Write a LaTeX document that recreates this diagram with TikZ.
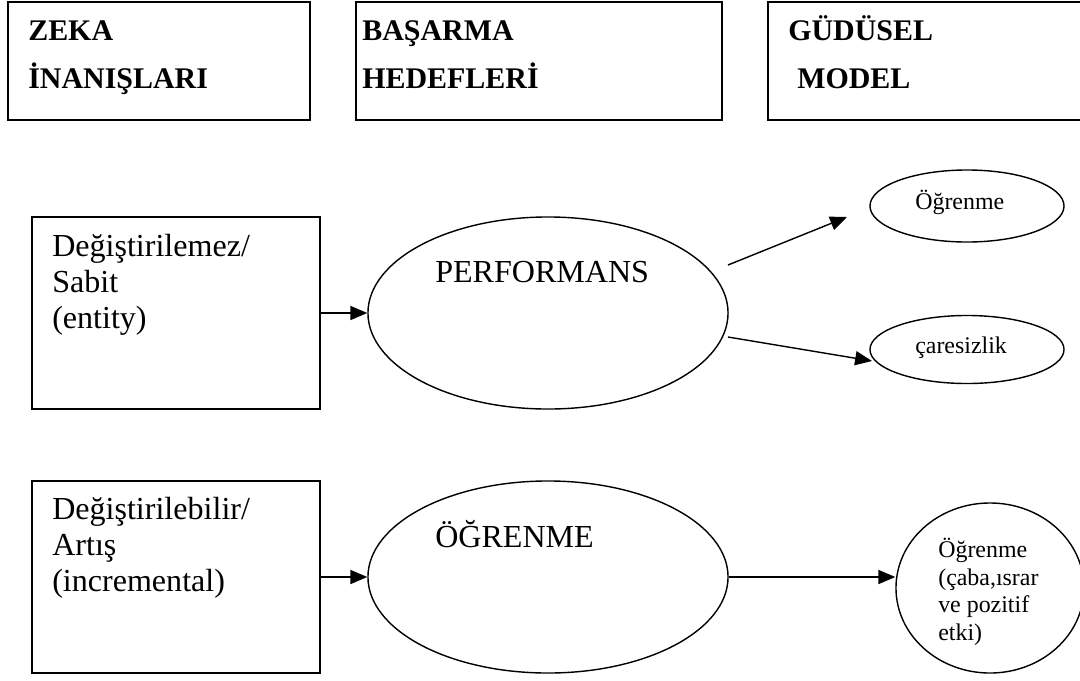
\documentclass[tikz,border=0pt]{standalone}
\usepackage{fontspec}
\setmainfont{Liberation Serif}
\usepackage{tikz}
\usetikzlibrary{arrows.meta}
\usetikzlibrary{shapes,shapes.geometric}
\tikzset{>={Triangle[length=12pt,width=10pt]}}
\tikzset{
  headbox/.style={draw, line width=1.3pt, rectangle, inner sep=0pt, minimum height=2.95cm},
  kindbox/.style={draw, line width=1.2pt, rectangle, inner sep=0pt, minimum width=7.2cm, minimum height=4.8cm},
  goal/.style={draw, line width=1pt, ellipse, inner sep=0pt, minimum width=9cm, minimum height=4.8cm},
  result/.style={draw, line width=1pt, ellipse, inner sep=0pt},
  headtxt/.style={anchor=base west, inner sep=0pt, align=left, font=\bfseries\fontsize{21.3}{33.8}\selectfont},
  bigtxt/.style={anchor=base west, inner sep=0pt, align=left, font=\fontsize{22.8}{25.3}\selectfont},
  smalltxt/.style={anchor=base west, inner sep=0pt, align=left, font=\fontsize{17}{19.5}\selectfont},
  arr/.style={->, line width=1pt}
}

\begin{document}
\begin{tikzpicture}[x=0.025cm, y=-0.025cm]
        \useasboundingbox (0,0) rectangle (1080,680);
        \clip (0,0) rectangle (1080,680);

        % Headings (text placed by its last line)
        \node[headbox, minimum width=7.55cm] (zeka) at (159,61) {};
        \node[headbox, minimum width=9.15cm] (hedef) at (539,61) {};
        \node[headbox, minimum width=8.05cm] (model) at (929,61) {};
        \node[headtxt] (zekatxt) at (28,88) {ZEKA\\İNANIŞLARI};
        \node[headtxt] (hedeftxt) at (362,88) {BAŞARMA\\HEDEFLERİ};
        \node[headtxt] (modeltxt) at (788,88) {GÜDÜSEL\\\hspace{6.4pt}MODEL};

        % Sabit (entity)
        \node[kindbox] (entity) at (176,313) {};
        \node[bigtxt] (entitytxt) at (52,328) {Değiştirilemez/\\Sabit\\(entity)};
        \node[goal] (perf) at (548,313) {};
        \node[bigtxt] (perftxt) at (435,282) {PERFORMANS};
        \node[result, minimum width=4.85cm, minimum height=1.8cm] (learnA) at (967,206) {};
        \node[smalltxt] (learnAtxt) at (915,209) {Öğrenme};
        \node[result, minimum width=4.85cm, minimum height=1.7cm] (helpless) at (967,349.5) {};
        \node[smalltxt] (helplesstxt) at (915,353) {çaresizlik};

        \coordinate (perfup) at (728,265);
        \coordinate (learnAend) at (847,217);
        \coordinate (perfdown) at (728,337);
        \coordinate (helplessend) at (872,361);
        \draw[arr] (entity) -- (perf);
        \draw[arr] (perfup) -- (learnAend);
        \draw[arr] (perfdown) -- (helplessend);

        % Artis (incremental)
        \node[kindbox] (incr) at (176,577) {};
        \node[bigtxt] (incrtxt) at (52,591) {Değiştirilebilir/\\Artış\\(incremental)};
        \node[goal] (learn) at (548,577) {};
        \node[bigtxt] (learntxt) at (435,547) {ÖĞRENME};
        \node[result, minimum width=4.7cm, minimum height=4.25cm] (learnB) at (990,588) {};
        \node[smalltxt] (learnBtxt) at (938,640) {Öğrenme\\(çaba,ısrar\\ve pozitif\\etki)};

        \draw[arr] (incr) -- (learn);
        \draw[arr] (learn.east) -- (learn.east -| learnB.west);
      \end{tikzpicture}
\end{document}
